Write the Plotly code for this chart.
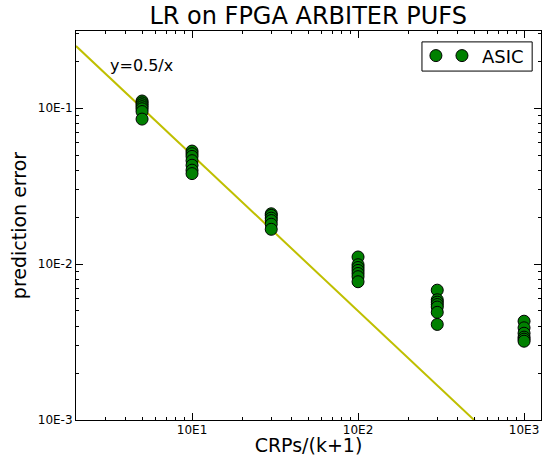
import numpy as np
import plotly.graph_objects as go

# Number of CRPs per (k+1), one cluster of runs per setting
crp_levels = [5, 10, 30, 100, 300, 1000]

# Prediction error of each run, grouped by CRP level
errors = {
    5:    [0.111, 0.108, 0.105, 0.102, 0.099, 0.095, 0.085],
    10:   [0.053, 0.051, 0.049, 0.046, 0.043, 0.040, 0.038],
    30:   [0.0210, 0.0205, 0.0197, 0.0190, 0.0180, 0.0167],
    100:  [0.0111, 0.0099, 0.0095, 0.0091, 0.0087, 0.0083, 0.0077],
    300:  [0.0068, 0.0059, 0.0057, 0.0055, 0.0053, 0.0049, 0.0041],
    1000: [0.0043, 0.0039, 0.0036, 0.0034, 0.0033, 0.0032],
}

x_pts = [c for c in crp_levels for _ in errors[c]]
y_pts = [e for c in crp_levels for e in errors[c]]

# Axis ranges and tick labels
x_range = [2, 1265]
y_range = [0.001, 0.312]
x_tickvals = [10, 100, 1000]
x_ticktext = ["10E1", "10E2", "10E3"]
y_tickvals = [0.001, 0.01, 0.1]
y_ticktext = ["10E-3", "10E-2", "10E-1"]

# Reference curve y = 0.5 / x
ref_x = np.array(x_range, dtype=float)
ref_y = 0.5 / ref_x

x_minor = [m * 10 ** d for d in range(0, 4) for m in range(2, 10)]
y_minor = [m * 10 ** d for d in range(-3, 0) for m in range(2, 10)]

font = "DejaVu Sans"
marker = dict(size=12, color="#008000", line=dict(color="black", width=1))

fig = go.Figure()
fig.add_trace(go.Scatter(
    x=ref_x, y=ref_y, mode="lines",
    line=dict(color="#bfbf00", width=2), showlegend=False,
))
# second legend swatch (legend shows two sample points, matplotlib style)
fig.add_trace(go.Scatter(
    x=[None], y=[None], mode="markers", marker=marker, name="",
    showlegend=True, legend="legend2",
))
fig.add_trace(go.Scatter(
    x=x_pts, y=y_pts, mode="markers", marker=marker, name="ASIC",
    legend="legend",
))

fig.add_annotation(
    x=np.log10(3.1), y=np.log10(0.188), xref="x", yref="y",
    text="y=0.5/x", showarrow=False, xanchor="left", yanchor="middle",
    font=dict(family=font, size=16, color="black"),
)

# legend frame
fig.add_shape(
    type="rect", xref="paper", yref="paper",
    x0=0.744, x1=0.981, y0=0.897, y1=0.972,
    line=dict(color="black", width=1), fillcolor="white", layer="above",
)

axis_common = dict(
    type="log", showgrid=False, zeroline=False, automargin=False,
    showline=True, linecolor="black", linewidth=1, mirror="allticks",
    ticks="inside", ticklen=7, tickcolor="black", tickwidth=1,
    tickfont=dict(family=font, size=12, color="black"),
)

fig.update_xaxes(
    **axis_common,
    range=[np.log10(x_range[0]), np.log10(x_range[1])],
    tickmode="array", tickvals=x_tickvals, ticktext=x_ticktext,
    ticklabelstandoff=-1,
    minor=dict(tickmode="array", tickvals=x_minor, ticks="inside", ticklen=3,
               tickcolor="black", showgrid=False),
    title=dict(text="CRPs/(k+1)", font=dict(family=font, size=19, color="black"), standoff=7),
)
fig.update_yaxes(
    **axis_common,
    range=[np.log10(y_range[0]), np.log10(y_range[1])],
    tickmode="array", tickvals=y_tickvals, ticktext=y_ticktext,
    minor=dict(tickmode="array", tickvals=y_minor, ticks="inside", ticklen=3,
               tickcolor="black", showgrid=False),
    title=dict(text="prediction error", font=dict(family=font, size=19, color="black"), standoff=6),
)

legend_font = dict(family=font, size=18, color="black")
fig.update_layout(
    width=544, height=456,
    margin=dict(l=76, r=3, t=31, b=36),
    paper_bgcolor="white", plot_bgcolor="white",
    title=dict(text="LR on FPGA ARBITER PUFS", x=0.5665, xanchor="center",
               y=1, yref="container", yanchor="top", pad=dict(t=7),
               font=dict(family=font, size=24, color="black")),
    legend=dict(
        orientation="h", x=0.787, y=0.936, xanchor="left", yanchor="middle",
        borderwidth=0, bgcolor="rgba(0,0,0,0)", font=legend_font, itemwidth=30,
    ),
    legend2=dict(
        orientation="h", x=0.731, y=0.936, xanchor="left", yanchor="middle",
        borderwidth=0, bgcolor="rgba(0,0,0,0)", font=legend_font, itemwidth=30,
    ),
    showlegend=True,
)

fig.write_html("out.html")
